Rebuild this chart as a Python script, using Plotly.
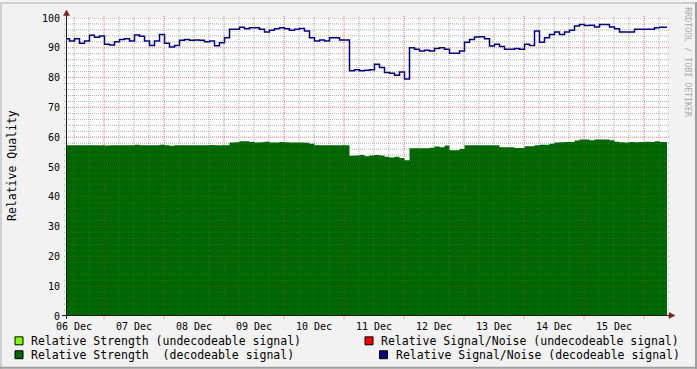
import plotly.graph_objects as go

# ---------------- data ----------------
day_labels = ["06 Dec", "07 Dec", "08 Dec", "09 Dec", "10 Dec",
              "11 Dec", "12 Dec", "13 Dec", "14 Dec", "15 Dec"]
day_label_hours = [12, 36, 60, 84, 108, 132, 156, 180, 204, 228]  # noon of each day (hours since 06 Dec 00:00)

# sample times: hours since 06 Dec 00:00, one sample every 2 hours
sample_hours = [8.2 + 2 * i for i in range(120)]

signal_noise_decodeable = [
    93.0, 92.3, 93.0, 91.5, 92.3, 94.2, 93.5, 94.0, 91.2, 90.9,
    92.0, 92.8, 93.0, 92.3, 94.3, 93.9, 92.3, 90.8, 92.3, 94.5,
    91.5, 90.3, 90.8, 92.5, 92.8, 92.5, 92.6, 92.5, 92.0, 92.3,
    90.7,
    91.7, 93.4, 96.2, 96.2, 96.9, 96.4, 96.7, 96.7, 96.2, 95.3,
    95.9, 96.4, 96.7, 96.4, 95.9, 96.2, 96.5, 95.6, 93.4, 92.3,
    92.6, 92.3, 93.4, 93.4, 92.6, 92.6, 82.3, 82.6, 82.3,
    82.5, 82.6, 84.5, 83.4, 81.7, 81.5, 80.8, 81.9, 79.5, 90.0,
    89.5, 88.9, 89.2, 88.9, 89.8, 90.0, 89.5, 88.2, 88.2, 88.9,
    91.9, 92.8, 93.6, 93.7, 93.0, 90.6, 91.2, 90.4, 89.5, 89.5,
    89.8, 89.5, 91.2, 90.8, 95.6, 91.9, 93.4, 94.5, 95.3, 94.5,
    95.3, 95.9, 97.3, 97.8, 97.5, 97.6, 97.0, 97.8, 97.8, 97.0,
    96.4, 95.3, 95.3, 95.3, 96.2, 96.2, 96.2, 96.2, 96.7, 96.9,
]

strength_decodeable = [
    57.3, 57.3, 57.3, 57.3, 57.3, 57.3, 57.3, 57.3, 57.2, 57.3,
    57.3, 57.3, 57.3, 57.3, 57.5, 57.3, 57.3, 57.3, 57.3, 57.5,
    57.3, 57.1, 57.3, 57.3, 57.3, 57.3, 57.3, 57.3, 57.3, 57.4,
    57.3,
    57.3, 57.3, 58.2, 58.3, 58.6, 58.6, 58.4, 58.2, 58.3, 58.5,
    58.2, 58.2, 58.4, 58.3, 58.2, 58.2, 58.2, 58.1, 57.8, 57.3,
    57.3, 57.3, 57.3, 57.3, 57.3, 57.3, 53.8, 53.9, 54.0,
    53.6, 53.9, 54.0, 53.9, 53.4, 53.2, 53.4, 53.0, 52.3, 56.3,
    56.3, 56.3, 56.3, 56.5, 56.9, 56.6, 57.2, 55.6, 55.6, 56.0,
    57.3, 57.3, 57.3, 57.3, 57.3, 57.3, 57.3, 56.6, 56.6, 56.6,
    56.4, 56.4, 57.0, 57.0, 57.3, 57.5, 57.5, 57.8, 58.2, 58.3,
    58.4, 58.4, 58.9, 59.2, 59.2, 59.0, 59.2, 59.2, 59.2, 59.0,
    58.5, 58.3, 58.2, 58.4, 58.3, 58.4, 58.5, 58.4, 58.6, 58.4,
]

y_ticks = [0, 10, 20, 30, 40, 50, 60, 70, 80, 90, 100]

legend_left = ["Relative Strength (undecodeable signal)",
               "Relative Strength\u00a0 (decodeable signal)"]
legend_right = ["Relative Signal/Noise (undecodeable signal)",
                "Relative Signal/Noise (decodeable signal)"]

# ---------------- style / layout ----------------
COL_STRENGTH_UNDEC = "#80FF00"
COL_STRENGTH_DEC = "#006600"
COL_SN_UNDEC = "#FF0000"
COL_SN_DEC = "#000080"
BACK = "#F2F2F2"
GRID_BELOW = ("rgba(143,143,143,0.6)", "rgba(222,79,79,0.55)")
GRID_ABOVE = ("rgba(143,143,143,0.2)", "rgba(222,79,79,0.25)")
ARROW = "#801F1F"
AXIS = "#1F1F1F"
FONT = "DejaVu Sans Mono"

W, H = 697, 369
ML, MR, MT, MB = 67, 30, 16, 53
PW, PH = W - ML - MR, H - MT - MB
T0, T1 = 9.2, 249.2


def X(px):
    return (px - ML) / PW


def Y(py):
    return (H - MB - py) / PH


x_ext = sample_hours + [T1]
strength_ext = strength_decodeable + [strength_decodeable[-1]]
sn_ext = signal_noise_decodeable + [signal_noise_decodeable[-1]]

fig = go.Figure()
fig.add_trace(go.Scatter(
    x=x_ext, y=strength_ext, mode="lines",
    line=dict(width=0, shape="hv", color=COL_STRENGTH_DEC),
    fill="tozeroy", fillcolor=COL_STRENGTH_DEC,
    name="Relative Strength (decodeable signal)", hoverinfo="skip"))
fig.add_trace(go.Scatter(
    x=x_ext, y=sn_ext, mode="lines",
    line=dict(width=1.5, shape="hv", color=COL_SN_DEC),
    name="Relative Signal/Noise (decodeable signal)"))

shapes = []
for layer, (c_minor, c_major) in (("below", GRID_BELOW), ("above", GRID_ABOVE)):
    # vertical grid (every 6 h, major every 24 h)
    h = 12
    while h < T1:
        major = (h % 24 == 0)
        shapes.append(dict(type="line", xref="x", yref="paper", x0=h, x1=h,
                           y0=Y(H - MB + (3 if major else 0)), y1=Y(MT - 2),
                           line=dict(color=c_major if major else c_minor, width=1, dash="1px,1px"),
                           layer=layer))
        h += 6
    # horizontal grid (every 2, major every 10)
    for v in range(2, 101, 2):
        major = (v % 10 == 0)
        shapes.append(dict(type="line", xref="paper", yref="y", x0=X(ML - 3), x1=X(ML + PW + 3),
                           y0=v, y1=v,
                           line=dict(color=c_major if major else c_minor, width=1, dash="1px,1px"),
                           layer=layer))
# axes
shapes.append(dict(type="line", xref="paper", yref="paper", x0=X(66.5), x1=X(66.5),
                   y0=Y(319), y1=Y(11), line=dict(color=AXIS, width=1), layer="above"))
shapes.append(dict(type="line", xref="paper", yref="paper", x0=X(62), x1=X(670),
                   y0=Y(315.5), y1=Y(315.5), line=dict(color=AXIS, width=1), layer="above"))
# arrows
shapes.append(dict(type="path", xref="paper", yref="paper",
                   path=f"M {X(66.5)} {Y(8)} L {X(63.5)} {Y(13.5)} L {X(69.5)} {Y(13.5)} Z",
                   fillcolor=ARROW, line=dict(color=ARROW, width=0.5), layer="above"))
shapes.append(dict(type="path", xref="paper", yref="paper",
                   path=f"M {X(675)} {Y(315.5)} L {X(669)} {Y(312.5)} L {X(669)} {Y(318.5)} Z",
                   fillcolor=ARROW, line=dict(color=ARROW, width=0.5), layer="above"))
# 3D frame
shapes.append(dict(type="line", xref="paper", yref="paper", x0=X(0), x1=X(W), y0=Y(1), y1=Y(1),
                   line=dict(color="#CFCFCF", width=2)))
shapes.append(dict(type="line", xref="paper", yref="paper", x0=X(1), x1=X(1), y0=Y(0), y1=Y(H),
                   line=dict(color="#CFCFCF", width=2)))
shapes.append(dict(type="line", xref="paper", yref="paper", x0=X(0), x1=X(W), y0=Y(H - 1), y1=Y(H - 1),
                   line=dict(color="#9E9E9E", width=2)))
shapes.append(dict(type="line", xref="paper", yref="paper", x0=X(W - 1), x1=X(W - 1), y0=Y(0), y1=Y(H),
                   line=dict(color="#9E9E9E", width=2)))

annotations = []
# legend boxes + texts
box_specs = [
    (15, 337, COL_STRENGTH_UNDEC), (15, 351, COL_STRENGTH_DEC),
    (365, 337, COL_SN_UNDEC), (379.5, 351, COL_SN_DEC),
]
for bx, by, col in box_specs:
    shapes.append(dict(type="rect", xref="paper", yref="paper",
                       x0=X(bx), x1=X(bx + 8), y0=Y(by), y1=Y(by + 8),
                       fillcolor=col, line=dict(color="#000000", width=1)))
text_starts = [29, 29, 379, 393.5]
texts = legend_left + legend_right
rows = [0, 1, 0, 1]
for txt, x0, r in zip(texts, text_starts, rows):
    annotations.append(dict(xref="paper", yref="paper", x=X(x0), y=Y(341.5 + 14 * r),
                            text=txt, showarrow=False, xanchor="left", yanchor="middle",
                            font=dict(family=FONT, size=11.5, color="#000000")))
# y-axis title
annotations.append(dict(xref="paper", yref="paper", x=X(12), y=Y(165), text="Relative Quality",
                        showarrow=False, textangle=-90, xanchor="center", yanchor="middle",
                        font=dict(family=FONT, size=11.5, color="#000000")))
# watermark
annotations.append(dict(xref="paper", yref="paper", x=X(688.5), y=Y(60), text="RRDTOOL / TOBI OETIKER",
                        showarrow=False, textangle=90, xanchor="center", yanchor="middle",
                        font=dict(family=FONT, size=8.3, color="#ABABAB")))

fig.update_layout(
    width=W, height=H,
    margin=dict(l=ML, r=MR, t=MT, b=MB, pad=0),
    paper_bgcolor=BACK, plot_bgcolor="#FFFFFF",
    showlegend=False,
    shapes=shapes, annotations=annotations,
    xaxis=dict(range=[T0, T1], showgrid=False, zeroline=False, showline=False,
               tickmode="array", tickvals=day_label_hours, ticktext=day_labels,
               ticks="", ticklabelstandoff=3,
               tickfont=dict(family=FONT, size=10, color="#000000"), fixedrange=True),
    yaxis=dict(range=[0, 100], showgrid=False, zeroline=False, showline=False,
               tickmode="array", tickvals=y_ticks, ticktext=[str(v) for v in y_ticks],
               ticks="", ticklabelstandoff=6,
               tickfont=dict(family=FONT, size=10, color="#000000"), fixedrange=True),
)

fig.write_html("out.html", config={"displayModeBar": False},
               post_script="document.body.style.margin='0';document.body.style.overflow='hidden';")
